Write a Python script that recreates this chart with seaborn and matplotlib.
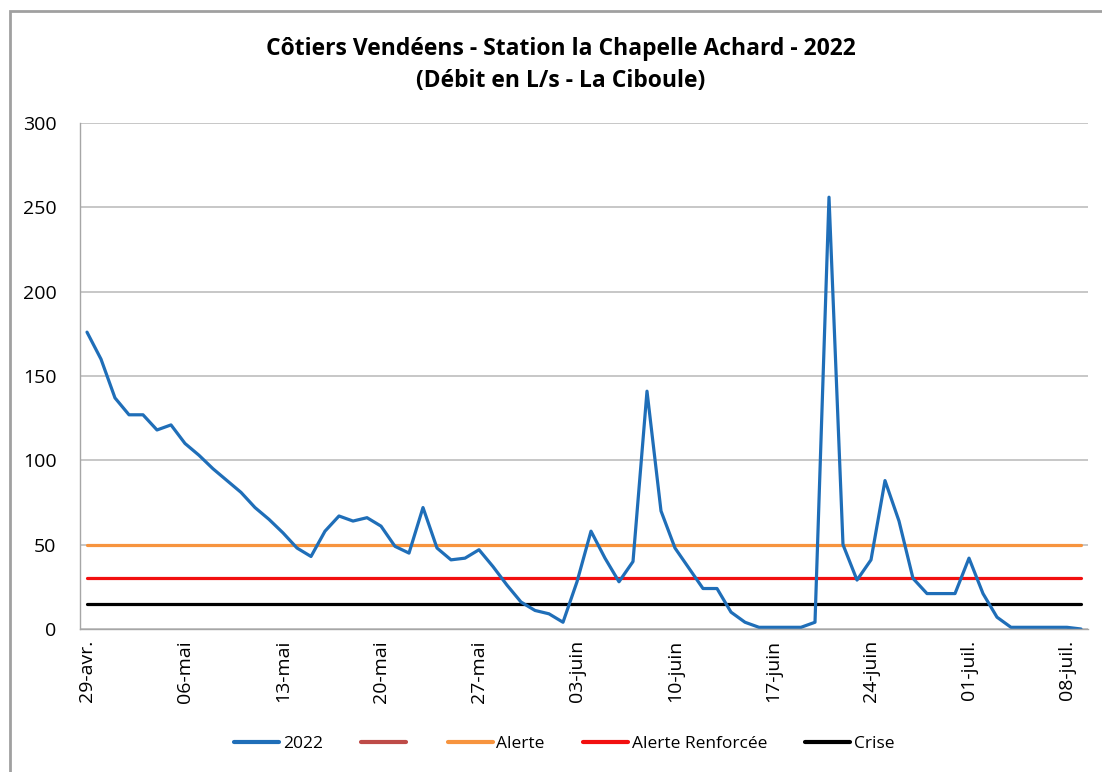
import numpy as np
import pandas as pd
import seaborn as sns
import matplotlib.pyplot as plt
from matplotlib.lines import Line2D
from matplotlib.patches import Rectangle

# daily flow (L/s), 29 April -> 09 July 2022
debit_2022 = [176, 160, 137, 127, 127, 118, 121, 110, 103, 95,
              88, 81, 72, 65, 57, 48, 43, 58, 67, 64,
              66, 61, 49, 45, 72, 48, 41, 42, 47, 37,
              26, 16, 11, 9, 4, 28, 58, 42, 28, 40,
              141, 70, 48, 36, 24, 24, 10, 4, 1, 1,
              1, 1, 4, 256, 50, 29, 41, 88, 64, 30,
              21, 21, 21, 42, 21, 7, 1, 1, 1, 1,
              1, 0]
seuil_alerte = 50
seuil_renforcee = 30
seuil_crise = 15
tick_labels = ["29-avr.", "06-mai", "13-mai", "20-mai", "27-mai", "03-juin",
               "10-juin", "17-juin", "24-juin", "01-juil.", "08-juil."]

jours = np.arange(len(debit_2022))
df = pd.DataFrame({"jour": jours, "debit": debit_2022})
df["alerte"] = seuil_alerte
df["renforcee"] = seuil_renforcee
df["crise"] = seuil_crise

sns.set_style("white")
plt.rcParams["font.family"] = ["Open Sans", "DejaVu Sans"]
plt.rcParams["text.color"] = "black"
plt.rcParams["xtick.labelcolor"] = "black"
plt.rcParams["ytick.labelcolor"] = "black"

fig = plt.figure(figsize=(11.02, 7.72), dpi=100)
ax = fig.add_axes([80 / 1102, 143 / 772, 1008 / 1102, 506 / 772])

blue = "#1F6EB8"
orange = "#F7943E"
red = "#F20F0F"
lw = 2.3

sns.lineplot(data=df, x="jour", y="alerte", color=orange, lw=lw, ax=ax)
sns.lineplot(data=df, x="jour", y="renforcee", color=red, lw=lw, ax=ax)
sns.lineplot(data=df, x="jour", y="crise", color="black", lw=lw, ax=ax)
sns.lineplot(data=df, x="jour", y="debit", color=blue, lw=lw, ax=ax)

ax.set_xlim(-0.5, len(debit_2022) - 0.5)
ax.set_ylim(0, 300)
ax.set_yticks(range(0, 301, 50))
ax.yaxis.grid(True, color="#BDBDBD", lw=1.2)
ax.set_axisbelow(True)

ticks = np.arange(0, len(debit_2022), 7)
ax.set_xticks(ticks)
ax.set_xticklabels(tick_labels, rotation=90)
ax.set_xticks(ticks - 0.5, minor=True)
ax.tick_params(axis="x", which="major", length=0, pad=8, labelsize=14)
ax.tick_params(axis="x", which="minor", length=6, color="#A6A6A6", width=1)
ax.tick_params(axis="y", length=8, color="#A6A6A6", width=1, labelsize=14, pad=9)
ax.set_xlabel("")
ax.set_ylabel("")

for side in ["top", "right"]:
    ax.spines[side].set_visible(False)
for side in ["left", "bottom"]:
    ax.spines[side].set_color("#A6A6A6")
    ax.spines[side].set_linewidth(1)

fig.text(0.509, 0.936, "Côtiers Vendéens - Station la Chapelle Achard - 2022",
         ha="center", va="center", fontsize=16.5, fontweight="bold")
fig.text(0.509, 0.895, "(Débit en L/s - La Ciboule)",
         ha="center", va="center", fontsize=16.5, fontweight="bold")

handles = [Line2D([], [], color=blue, lw=3),
           Line2D([], [], color="#BE4B48", lw=3),
           Line2D([], [], color=orange, lw=3),
           Line2D([], [], color=red, lw=3),
           Line2D([], [], color="black", lw=3)]
labels = ["2022", "", "Alerte", "Alerte Renforcée", "Crise"]
fig.legend(handles, labels, loc="center", bbox_to_anchor=(0.512, 0.036), ncol=5,
           frameon=False, fontsize=12.5, handlelength=2.6, handletextpad=0.2,
           columnspacing=2.2)

fig.patches.append(Rectangle((10 / 1102, -0.05), 1.1, 1 - 11 / 772 + 0.05,
                             transform=fig.transFigure, fill=False,
                             edgecolor="#A0A0A0", lw=2))

fig.savefig("out.png", dpi=100)
